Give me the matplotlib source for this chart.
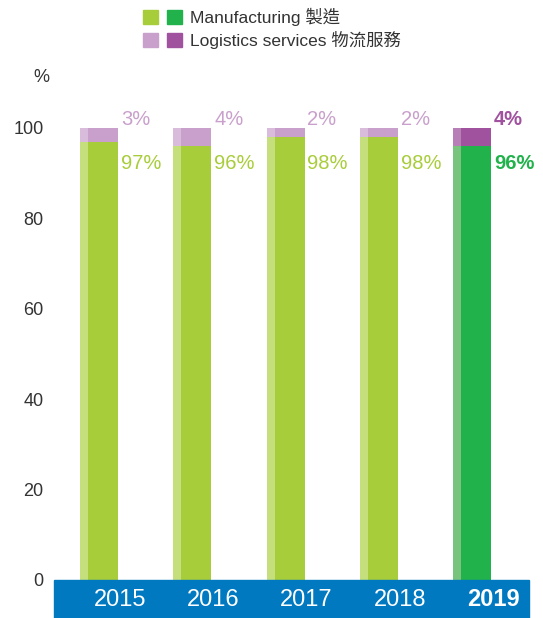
import matplotlib.pyplot as plt
from matplotlib.patches import Rectangle

years = ['2015', '2016', '2017', '2018', '2019']
manufacturing = [97, 96, 98, 98, 96]
logistics = [3, 4, 2, 2, 4]

FONT = ['Liberation Sans', 'Noto Sans CJK TC', 'DejaVu Sans']
plt.rcParams['font.family'] = FONT

# colours: (main, left strip) for past years and highlighted year
man_col = ('#A8CD3A', '#C5DF7D')
log_col = ('#C9A0CC', '#D9BCDB')
man_hi = ('#22B24C', '#78C47E')
log_hi = ('#A0529F', '#B87EB6')

W, H = 543, 618
fig = plt.figure(figsize=(W / 100, H / 100), dpi=100)
# axes placed in pixel terms: x 54..529, y 128 (100%) .. 580 (0%)
ax = fig.add_axes([54 / W, 1 - 580 / H, 475 / W, 452 / H])

step = 93.25
x = list(range(len(years)))
left0 = -(99 - 54) / step
bw = 38 / step
sw = 8 / step

for i, yr in enumerate(years):
    hi = (i == len(years) - 1)
    mc = man_hi if hi else man_col
    lc = log_hi if hi else log_col
    xl = x[i] - bw / 2
    # strip + main for manufacturing
    ax.bar(xl, manufacturing[i], width=sw, align='edge', color=mc[1], lw=0)
    ax.bar(xl + sw, manufacturing[i], width=bw - sw, align='edge', color=mc[0], lw=0)
    ax.bar(xl, logistics[i], bottom=manufacturing[i], width=sw, align='edge', color=lc[1], lw=0)
    ax.bar(xl + sw, logistics[i], bottom=manufacturing[i], width=bw - sw, align='edge', color=lc[0], lw=0)
    wt = 'bold' if hi else 'normal'
    tx = x[i] + bw / 2 + 3 / step
    ax.text(tx, 101.8, f'{logistics[i]}%', color=lc[0], fontsize=14.5, fontweight=wt,
            ha='left', va='center')
    ax.text(tx, 92.2, f'{manufacturing[i]}%', color=mc[0], fontsize=14.5, fontweight=wt,
            ha='left', va='center')

ax.set_xlim(left0, 4 + (529 - 472) / step)
ax.set_ylim(0, 100)
ax.set_yticks([0, 20, 40, 60, 80, 100])
ax.set_xticks([])
ax.tick_params(axis='y', length=0, labelsize=13, pad=7.5, colors='#333333')
for s in ax.spines.values():
    s.set_visible(False)

# blue band with years under the axes
fig.patches.append(Rectangle((54 / W, 0), 475 / W, 38 / H, transform=fig.transFigure,
                             color='#0079C1', zorder=0))
for i, yr in enumerate(years):
    xf = ax.transData.transform((x[i], 0))[0]
    xf = fig.transFigure.inverted().transform((xf, 0))[0]
    fig.text(xf + 21 / W, 1 - 600 / H, yr, color='white', fontsize=17,
             fontweight='bold' if i == len(years) - 1 else 'normal',
             ha='center', va='center')

fig.text(41 / W, 1 - 78 / H, '%', fontsize=13, color='#333333', ha='center', va='center')

# legend
legend_rows = [('Manufacturing 製造', man_col[0], man_hi[0], 17),
               ('Logistics services 物流服務', log_col[0], log_hi[0], 40)]
for label, c1, c2, yc in legend_rows:
    for xs, c in ((143, c1), (167, c2)):
        fig.patches.append(Rectangle((xs / W, 1 - (yc + 7) / H), 15 / W, 14 / H,
                                     transform=fig.transFigure, color=c))
    fig.text(190 / W, 1 - yc / H, label, fontsize=12.5, color='#333333',
             ha='left', va='center')

fig.savefig('out.png', dpi=100)
